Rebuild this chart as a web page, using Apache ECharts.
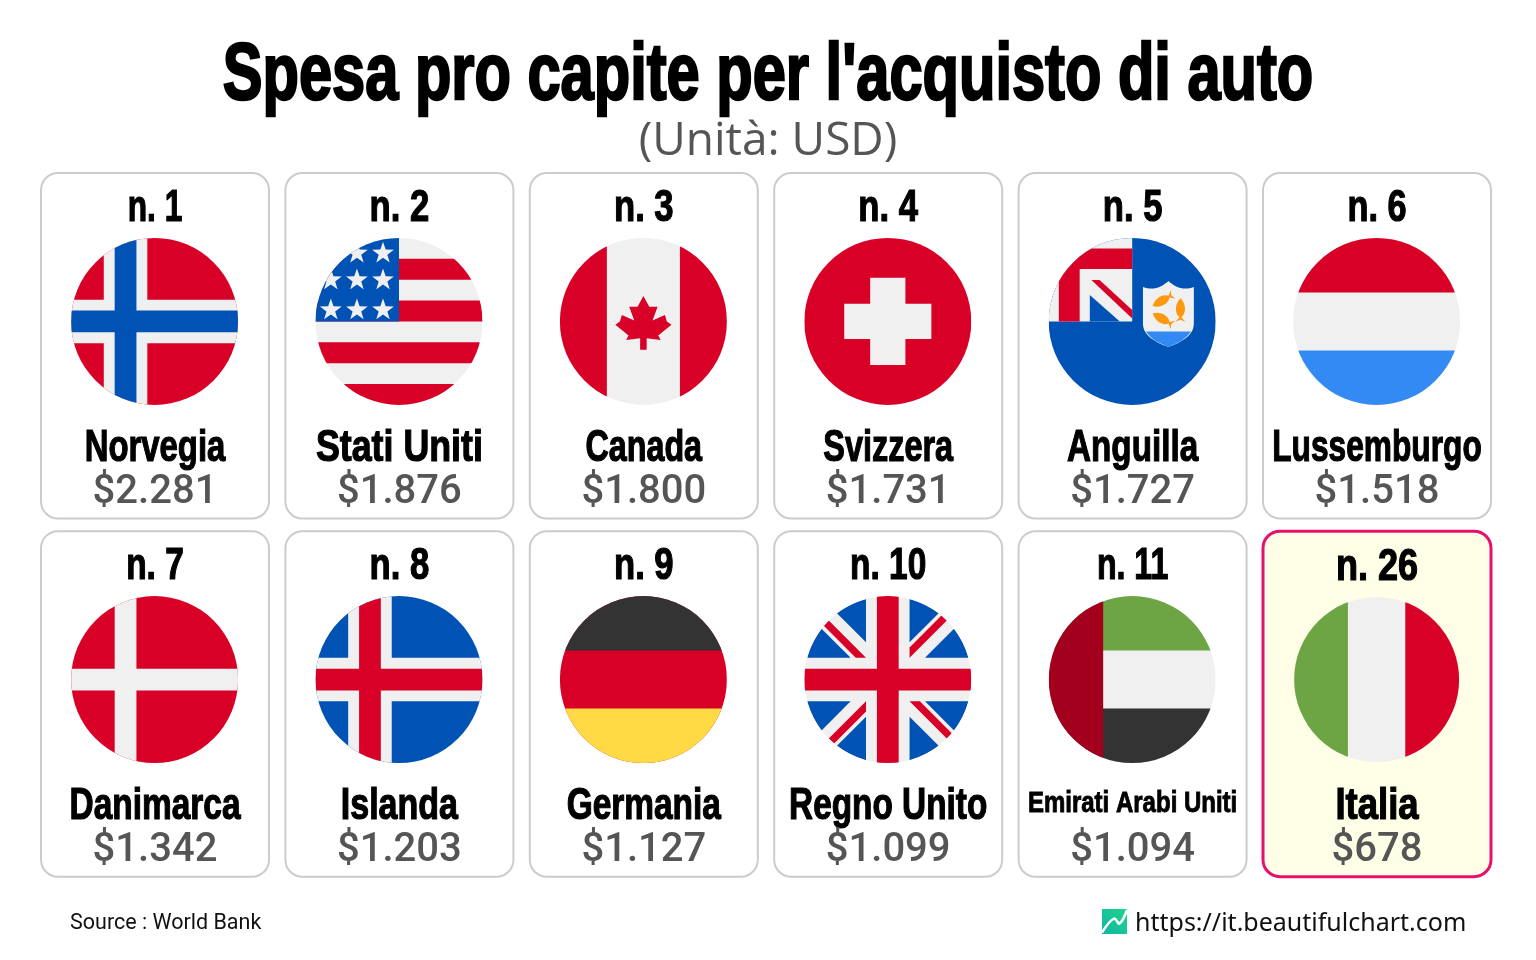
<!DOCTYPE html>
<html><head><meta charset="utf-8">
<style>html,body{margin:0;padding:0;background:#fff}#c{width:1536px;height:960px}</style>
<script src="https://cdn.jsdelivr.net/npm/echarts@6/dist/echarts.min.js"></script>
</head><body><div id="c"></div>
<script>
const titleText = "Spesa pro capite per l'acquisto di auto";
const subtitleText = "(Unità: USD)";
const sourceText = "Source : World Bank";
const siteText = "https://it.beautifulchart.com";
const countries = ["Norvegia","Stati Uniti","Canada","Svizzera","Anguilla","Lussemburgo","Danimarca","Islanda","Germania","Regno Unito","Emirati Arabi Uniti","Italia"];
const ranks = [1,2,3,4,5,6,7,8,9,10,11,26];
const spending = [2281,1876,1800,1731,1727,1518,1342,1203,1127,1099,1094,678];
const highlighted = "Italia";
const columns = ["c1","c2","c3","c4","c5","c6"];
const rows = ["r1","r2"];
// horizontal squeeze per label, to imitate the reference's condensed face
const nameSqueeze = [.747,.813,.733,.737,.755,.72,.76,.773,.76,.758,.80,.83];
const rankSqueeze = [.72,.787,.787,.787,.787,.78,.76,.787,.787,.76,.73,.82];

const RED="#D80027",WHITE="#F0F0F0",BLUE="#0052B4",SKY="#338AF3",GREEN="#6DA544",DARK="#333333",MAROON="#A2001D",YELLOW="#FFDA44",ORANGE="#FF9811";
const P=(d,fill)=>({type:'path',shape:{pathData:d},style:{fill:fill}});
const box=(x0,y0,x1,y1)=>`M${x0} ${y0}H${x1}V${y1}H${x0}Z`;
const full=(fill)=>P(box(0,0,512,512),fill);
const nordic=(bg,band,cross)=>[full(bg),
  P(box(100.2,0,233.7,512),band),P(box(0,189.2,512,322.8),band),
  P(box(133.6,0,200.3,512),cross),P(box(0,222.6,512,289.4),cross)];
function star(cx,cy){let d='';for(let k=0;k<10;k++){const r=k%2?14:35,a=-Math.PI/2+k*Math.PI/5;
  d+=(k?'L':'M')+(cx+r*Math.cos(a)).toFixed(1)+' '+(cy+r*Math.sin(a)).toFixed(1);}return d+'Z';}
function fish(x,y,rot){return {type:'group',x:x,y:y,rotation:rot,children:[
  P('M-36 -15L-22 -3C-10 -18 18 -18 36 0C18 18 -10 18 -22 3L-36 15L-30 0Z',ORANGE)]};}
const flagArt={
 "Norvegia":()=>nordic(RED,WHITE,BLUE),
 "Islanda":()=>nordic(BLUE,WHITE,RED),
 "Stati Uniti":()=>{const a=[full(WHITE)];
   [[64,128],[192,256],[320,384],[448,512]].forEach(s=>a.push(P(box(0,s[0],512,s[1]),RED)));
   a.push(P(box(0,0,256,256),BLUE));
   [[127,47],[207,47],[47,129],[127,129],[207,129],[47,221],[127,221],[207,221]].forEach(s=>a.push(P(star(s[0],s[1]),WHITE)));
   return a;},
 "Canada":()=>[full(WHITE),P(box(0,0,144,512),RED),P(box(368,0,512,512),RED),
   P('M256 178L274 211H299.5L284 253L322 236L328 256L342 266L301.5 299L309 313L266 307.5V343H246V307.5L203 313L210.5 299L170 266L184 256L190 236L228 253L212.5 211H238Z',RED)],
 "Svizzera":()=>[full(RED),P(box(122.4,202,389.6,310),WHITE),P(box(202,122.4,310,389.6),WHITE)],
 "Anguilla":()=>[full(BLUE),P(box(0,0,256,256),WHITE),
   P('M31 256V32H256V95H95V256Z',RED),
   P('M126 175L218 256H126Z',BLUE),
   P('M131 129H156L256 221V247Z',RED),
   P('M289 150C320 162 345 152 367 132C389 152 414 162 445 150V262C445 300 405 320 367 334C329 320 289 300 289 262Z',WHITE),
   P('M298 287H436C420 312 395 323 367 334C339 323 314 312 298 287Z',SKY),
   fish(350,191,-2.62),fish(404,221,1.57),fish(350,249,2.62)],
 "Lussemburgo":()=>[full(WHITE),P(box(0,0,512,167),RED),P(box(0,345,512,512),SKY)],
 "Danimarca":()=>[full(RED),P(box(133.6,0,200.3,512),WHITE),P(box(0,222.6,512,289.4),WHITE)],
 "Germania":()=>[full(RED),P(box(0,0,512,167),DARK),P(box(0,345,512,512),YELLOW)],
 "Regno Unito":()=>[full(WHITE),
   ...["M52.92 100.142C32.811 126.305 17.648 156.46 8.819 189.219H141.997Z","M503.181 189.219C494.352 156.461 479.188 126.306 459.08 100.143L370.005 189.219Z","M8.819 322.784C17.649 355.542 32.812 385.697 52.92 411.859L141.994 322.784Z","M411.858 52.921C385.695 32.812 355.541 17.649 322.782 8.819V141.996Z","M100.142 459.079C126.305 479.188 156.46 494.351 189.218 503.181V370.005Z","M189.217 8.819C156.459 17.649 126.304 32.812 100.142 52.92L189.217 141.995Z","M322.783 503.181C355.541 494.351 385.696 479.188 411.858 459.08L322.783 370.005Z","M370.005 322.784L459.08 411.86C479.188 385.698 494.352 355.542 503.181 322.784Z"].map(d=>P(d,BLUE)),
   P(box(222.6,0,289.4,512),RED),P(box(0,222.6,512,289.4),RED),
   P('M322.783 322.784L437.019 437.02C442.273 431.768 447.285 426.277 452.067 420.585L354.265 322.783Z',RED),
   P('M189.217 322.784L74.98 437.019C80.232 442.273 85.723 447.285 91.415 452.067L189.217 354.263Z',RED),
   P('M189.217 189.217L74.981 74.98C69.727 80.232 64.715 85.723 59.933 91.415L157.736 189.218Z',RED),
   P('M322.783 189.219L437.02 74.981C431.768 69.727 426.277 64.715 420.585 59.934L322.783 157.737Z',RED)],
 "Emirati Arabi Uniti":()=>[full(WHITE),P(box(0,0,512,167),GREEN),P(box(0,345,512,512),DARK),P(box(0,0,167,512),MAROON)],
 "Italia":()=>[full(WHITE),P(box(0,0,167,512),GREEN),P(box(345,0,512,512),RED)]
};

const HEAVY='"Liberation Sans",sans-serif';
const fmt=v=>'$'+String(v).replace(/\B(?=(\d{3})+$)/g,'.');
function heavy(text,x,y,size,sx,weightStroke){
  return {type:'text',x:x,y:y,scaleX:sx,style:{text:text,fontFamily:HEAVY,fontWeight:'bold',fontSize:size,fill:'#000',stroke:'#000',lineWidth:weightStroke,align:'center',verticalAlign:'middle'}};
}
function renderCard(params,api){
  const i=api.value(2), c=api.coord([api.value(0),api.value(1)]), cx=c[0], cy=c[1];
  const name=countries[i], hot=name===highlighted, small=name.length>12;
  const R=hot?82.5:83.5, k=2*R/512;
  const children=[
    {type:'rect',shape:{x:cx-114,y:cy-172.7,width:228,height:345.5,r:17},
     style:{fill:hot?'#FFFFE8':'#fff',stroke:hot?'#E6106F':'#CCCCCC',lineWidth:hot?3:2}},
    heavy('n. '+ranks[i],cx,cy-137+(hot?1.5:0),44,rankSqueeze[i],1.2),
    {type:'group',x:cx-0.4-R,y:cy-24.3-R,scaleX:k,scaleY:k,
     clipPath:{type:'circle',shape:{cx:256,cy:256,r:256}},children:flagArt[name]()},
    heavy(name,cx,cy+(small?100:103),small?30:44,nameSqueeze[i],small?0.9:1.2),
    {type:'text',x:cx,y:cy+147,style:{text:fmt(spending[i]),fontFamily:'Roboto,sans-serif',fontWeight:500,fontSize:40,fill:'#555555',align:'center',verticalAlign:'middle'}}
  ];
  return {type:'group',children:children};
}
const cards=countries.map((n,i)=>[i%6,Math.floor(i/6),i]);
const chart=echarts.init(document.getElementById('c'),null,{renderer:'canvas'});
chart.setOption({
  animation:false,backgroundColor:'#fff',
  grid:{left:32.8,top:166.7,width:1466.4,height:716.2,containLabel:false},
  xAxis:{type:'category',data:columns,show:false},
  yAxis:{type:'category',data:rows,inverse:true,show:false},
  series:[{type:'custom',coordinateSystem:'cartesian2d',clip:false,silent:true,
    encode:{x:0,y:1},data:cards,renderItem:renderCard}],
  graphic:[
    {type:'text',x:768,y:77,scaleX:0.745,style:{text:titleText,fontFamily:HEAVY,fontWeight:'bold',fontSize:80,fill:'#000',stroke:'#000',lineWidth:2.5,align:'center',verticalAlign:'middle'}},
    {type:'text',x:768,y:142,style:{text:subtitleText,fontFamily:'"Open Sans",sans-serif',fontSize:46,fill:'#555555',align:'center',verticalAlign:'middle'}},
    {type:'text',x:70,y:924,style:{text:sourceText,fontFamily:'Roboto,sans-serif',fontSize:21.5,fill:'#111',align:'left',verticalAlign:'middle'}},
    {type:'rect',shape:{x:1102,y:909,width:25,height:25},style:{fill:new echarts.graphic.LinearGradient(1,0,0,1,[{offset:0,color:'#1FD58A'},{offset:1,color:'#12B5A5'}])}},
    {type:'polyline',shape:{points:[[1102,932.5],[1114,918.5],[1119.5,923.5],[1127,910]],smooth:0.4},style:{fill:'none',stroke:'#fff',lineWidth:2.5}},
    {type:'text',x:1135,y:924,style:{text:siteText,fontFamily:'"Noto Sans",sans-serif',fontSize:25,fill:'#111',align:'left',verticalAlign:'middle'}}
  ]
});
</script></body></html>
